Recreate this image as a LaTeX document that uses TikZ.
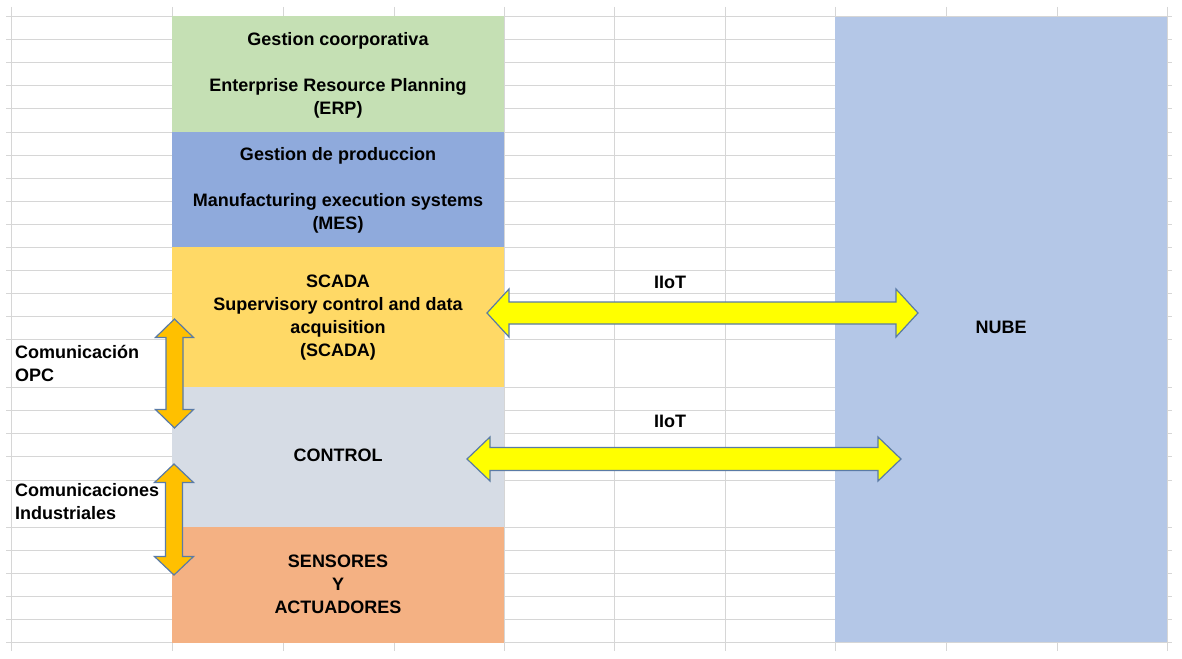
\documentclass[tikz,border=0pt]{standalone}
\usepackage{fontspec}
\setmainfont{Liberation Sans}
\definecolor{ergreen}{HTML}{C5E0B4}
\definecolor{mesblue}{HTML}{8FAADC}
\definecolor{scadayellow}{HTML}{FFD966}
\definecolor{controlgray}{HTML}{D6DCE5}
\definecolor{sensorange}{HTML}{F4B183}
\definecolor{nubeblue}{HTML}{B4C7E7}
\definecolor{gridgray}{HTML}{D6D6D6}
\definecolor{arrowedge}{HTML}{5A7BA6}
\definecolor{iiotyellow}{HTML}{FFFF00}
\definecolor{opcorange}{HTML}{FFC000}
% horizontal double arrow: name, x1, x2, yc, headlen, headhalf, shafthalf, fill
\newcommand{\hdblarrow}[8]{%
  \coordinate (#1-a) at (#2,#4);
  \coordinate (#1-b) at (#3,#4);
  \draw[blockarrow, fill=#8] (#1-a) -- (#2+#5,#4-#6) -- (#2+#5,#4-#7) -- (#3-#5,#4-#7)
    -- (#3-#5,#4-#6) -- (#1-b) -- (#3-#5,#4+#6) -- (#3-#5,#4+#7) -- (#2+#5,#4+#7)
    -- (#2+#5,#4+#6) -- cycle;}
% vertical double arrow: name, y1, y2, xc, headlen, headhalf, shafthalf, fill
\newcommand{\vdblarrow}[8]{%
  \coordinate (#1-a) at (#4,#2);
  \coordinate (#1-b) at (#4,#3);
  \draw[blockarrow, fill=#8] (#1-a) -- (#4+#6,#2+#5) -- (#4+#7,#2+#5) -- (#4+#7,#3-#5)
    -- (#4+#6,#3-#5) -- (#1-b) -- (#4-#6,#3-#5) -- (#4-#7,#3-#5) -- (#4-#7,#2+#5)
    -- (#4-#6,#2+#5) -- cycle;}
\begin{document}
\begin{tikzpicture}[x=1pt,y=-1pt,
  txt/.style={font=\bfseries\fontsize{18}{23}\selectfont},
  layer/.style={rectangle, draw=none, inner sep=0pt, minimum width=332pt},
  lbl/.style={txt, inner sep=0pt},
  gridline/.style={draw=gridgray, line width=1pt},
  blockarrow/.style={draw=arrowedge, line width=1.2pt, line join=miter}]
\useasboundingbox (0,0) rectangle (1182,658);
\fill[white] (0,0) rectangle (1182,658);
% spreadsheet grid
\foreach \yy in {17,40,63,86,109,132,155,178,201,224,247,270,293,316,339,387,410,433,456,480,527,550,573,596,619,642}
  \draw[gridline] (6,\yy) -- (1172,\yy);
\foreach \xx in {11,172,283,394,504,614,725,835,946,1057,1167}
  \draw[gridline] (\xx,7) -- (\xx,651);
% layers
\node[layer, fill=ergreen, minimum height=116pt] (erp) at (338,74.5) {};
\node[layer, fill=mesblue, minimum height=116pt] (mes) at (338,189.5) {};
\node[layer, fill=scadayellow, minimum height=141pt] (scada) at (338,317) {};
\node[layer, fill=controlgray, minimum height=141pt] (control) at (338,457) {};
\node[layer, fill=sensorange, minimum height=116pt] (sens) at (338,584.5) {};
\node[layer, fill=nubeblue, minimum height=625pt] (nube) at (1001,329.5) {};
% layer texts
\node[lbl, align=center] (erptxt) at (338,75.5)
  {Gestion coorporativa\\[23pt]Enterprise Resource Planning\\(ERP)};
\node[lbl, align=center] (mestxt) at (338,190.5)
  {Gestion de produccion\\[23pt]Manufacturing execution systems\\(MES)};
\node[lbl, align=center] (scadatxt) at (338,317.5)
  {SCADA\\Supervisory control and data\\acquisition\\(SCADA)};
\node[lbl] (controltxt) at (338,455) {CONTROL};
\node[lbl, align=center] (senstxt) at (338,584)
  {SENSORES\\Y\\ACTUADORES};
\node[lbl] (nubetxt) at (1001,327) {NUBE};
% labels
\node[lbl, anchor=west, align=left] (opc) at (15,363) {Comunicación\\OPC};
\node[lbl, anchor=west, align=left] (ind) at (15,502) {Comunicaciones\\Industriales};
\node[lbl] (iiot1) at (670,282) {IIoT};
\node[lbl] (iiot2) at (670,421) {IIoT};
% block arrows
\hdblarrow{a1}{487}{918}{313}{22}{24}{11}{iiotyellow}
\hdblarrow{a2}{467}{901}{459}{23}{22}{11.5}{iiotyellow}
\vdblarrow{a3}{319}{428}{174.5}{18.5}{19}{8.5}{opcorange}
\vdblarrow{a4}{464}{575}{174}{18.5}{19.5}{8.5}{opcorange}
\end{tikzpicture}
\end{document}
